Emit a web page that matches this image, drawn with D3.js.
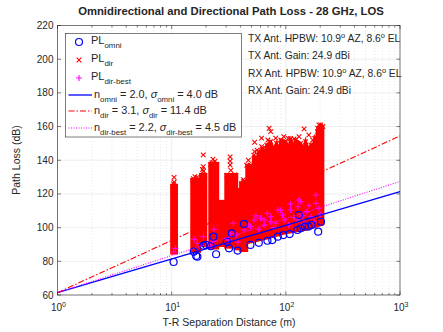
<!DOCTYPE html>
<head>
  <meta charset="utf-8">
  <title>Omnidirectional and Directional Path Loss</title>
  <script src="https://cdn.jsdelivr.net/npm/d3@7"></script>
  <style>
  body { margin: 0; background: #fff; }
  text { font-family: "Liberation Sans", Arial, sans-serif; fill: #262626; }
  </style>
</head>
<body>
<script type="text/javascript">
var WIDTH = 443, HEIGHT = 332;

// omni PL (blue circles): [distance m, PL dB]
var omniPts = [[10.4,79.6],[15.6,85.7],[16.4,83.2],[16.8,82.7],[19,89.3],[22,89],[23.2,94.6],[24.5,84.2],
  [30.4,91.7],[31.8,87.7],[33.6,96.6],[37.8,86.4],[43,102.2],[49,89.7],[58,91],[69,92.2],[76,92.6],
  [85,94.6],[95,95.6],[108,96.2],[126,98.6],[130,107.5],[135,99.6],[147,100.6],[158,100.6],[168,101.6],
  [192,97.6],[203,103.5],[20,89.7]];

// dir PL dense strips: [d from, d to, PL low, PL high]
var dirStrips = [[10.2,10.8,85.5,124.5],[15.3,17.2,86.5,128],[18.3,19.5,90,131],[22,24.8,88.5,137.5],
  [26.3,29.2,90,115],[30.4,36.4,89,131],[37.2,40.2,88,122],[41,44.5,87,126]];
// dir PL dense mass beyond ~45 m: upper and lower envelopes
var massTop = [[45.5,137],[49.3,137],[50.5,131],[52.5,143],[55,139],[58,145],[63,147],[65.5,141],[68,149],
  [73.7,151],[78,146],[83,150],[88,144],[90.4,152],[100,151],[106,146],[110,153],[116,147],[122,152],
  [135,150],[141,145],[149,151],[158,146],[166,149],[172,147],[179,153],[185,151],[190,159],[202,161],[211,160]];
var massBottom = [[45.5,91],[70,94],[100,97],[150,99],[211,102]];
// dir PL scattered points
var dirPts = [[10.5,129.8],[10.5,127],[10.4,126],[16,130.3],[16.8,130],[15.5,129],[18.9,143.2],[18.9,136.2],
  [19,133.5],[18.6,134.5],[23,140.6],[24,139.5],[22.5,138.5],[32.5,142],[32.5,139.5],[32.5,137.2],[33,134],
  [35.5,131.3],[42.5,128.5],[43.5,127.5],[42.5,127.3],[53.3,150.7],[53.3,145.1],[61.3,153.1],[61.3,148.1],
  [71.4,159],[73.7,157],[69.6,152],[81.5,153.1],[118,152.6],[144.6,158.6],[130.5,154],[159,155],[195,161],
  [202,159.8],[190,157],[47,140],[56,146],[96,154],[105,153],[172,152]];

// dir-best PL (magenta plus)
var bestPts = [[15.7,93.1],[16.8,90.7],[19,94.6],[10.8,87.7],[10.4,85.5],[23.4,99],[23.3,92],[34.7,102.6],
  [33,96.6],[38,91.5],[22,89],[31.5,92.7],[84.8,110.5],[93.6,107.5],[110,110.5],[127,112.4],[135,115.4],
  [153,109.5],[183,119.4],[183,114.5],[195,111.5],[69,108.5],[73.7,103.5],[60,105.5],[49,100.6],[43,98.6],
  [36.6,95.6],[52.6,104.5],[96.5,104.5],[166,106.5],[177,103.5],[127,104.5],[81.5,102.6],[64.5,101.6],
  [144,102.6],[106,101.6],[130,116.4],[110,114],[90,110.5],[73.7,106.5],[54.6,107],[64.5,104.5],[47.4,101.6],
  [58,99],[78,100],[118,106],[160,113],[200,108],[140,107]];

// fitted models: PL = fspl + 10 n log10(d)
var fspl = 61.4;
var nOmni = 2.0, nDir = 3.1, nBest = 2.2;

var xTicks = [1, 10, 100, 1000];
var yTicks = [60, 80, 100, 120, 140, 160, 180, 200, 220];

var svg = d3.select("body").append("svg")
  .attr("width", WIDTH).attr("height", HEIGHT);

var x = d3.scaleLog().domain([1, 1000]).range([57.5, 400]);
var y = d3.scaleLinear().domain([60, 220]).range([295, 25.5]);

var minor = [];
[1, 10, 100].forEach(function(b){ for (var k = 2; k < 10; k++) minor.push(b * k); });

// grid
var grid = svg.append("g");
grid.selectAll(".mg").data(minor).enter().append("line")
  .attr("x1", function(d){ return x(d); }).attr("x2", function(d){ return x(d); })
  .attr("y1", y(60)).attr("y2", y(220))
  .attr("stroke", "#d0d0d0").attr("stroke-width", 0.5).attr("stroke-dasharray", "1,2");
grid.selectAll(".gx").data(xTicks).enter().append("line")
  .attr("x1", function(d){ return x(d); }).attr("x2", function(d){ return x(d); })
  .attr("y1", y(60)).attr("y2", y(220))
  .attr("stroke", "#dedede").attr("stroke-width", 0.5);
grid.selectAll(".gy").data(yTicks).enter().append("line")
  .attr("x1", x(1)).attr("x2", x(1000))
  .attr("y1", function(d){ return y(d); }).attr("y2", function(d){ return y(d); })
  .attr("stroke", "#dedede").attr("stroke-width", 0.5);

// dir PL dense regions
var red = "#ff0000";
svg.append("g").selectAll("rect").data(dirStrips).enter().append("rect")
  .attr("x", function(d){ return x(d[0]) - 2.5; })
  .attr("width", function(d){ return x(d[1]) - x(d[0]) + 5; })
  .attr("y", function(d){ return y(d[3]) - 2.5; })
  .attr("height", function(d){ return y(d[2]) - y(d[3]) + 5; })
  .attr("fill", red);

var massPoly = massTop.concat(massBottom.slice().reverse());
svg.append("path")
  .attr("d", d3.line().x(function(d){ return x(d[0]); }).y(function(d){ return y(d[1]); })(massPoly) + "Z")
  .attr("fill", red).attr("stroke", red).attr("stroke-width", 3).attr("stroke-linejoin", "miter");

function cross(sel, s){
  sel.append("path").attr("d", "M" + (-s) + "," + (-s) + "L" + s + "," + s + "M" + (-s) + "," + s + "L" + s + "," + (-s));
}
var dg = svg.append("g").attr("stroke", red).attr("stroke-width", 1.1).attr("fill", "none");
dirPts.forEach(function(p){
  var g = dg.append("g").attr("transform", "translate(" + x(p[0]) + "," + y(p[1]) + ")");
  cross(g, 2.3);
});
// x markers along the upper edge of strips / mass
dirStrips.forEach(function(s){
  [s[0], s[1]].forEach(function(d){
    var g = dg.append("g").attr("transform", "translate(" + x(d) + "," + y(s[3]) + ")");
    cross(g, 2.3);
  });
});
massTop.forEach(function(p){
  var g = dg.append("g").attr("transform", "translate(" + x(p[0]) + "," + y(p[1]) + ")");
  cross(g, 2.3);
});

// dir-best markers
var mag = "#ff00ff";
var bg = svg.append("g").attr("stroke", mag).attr("stroke-width", 1.1);
bestPts.forEach(function(p){
  bg.append("path").attr("transform", "translate(" + x(p[0]) + "," + y(p[1]) + ")")
    .attr("d", "M-3,0L3,0M0,-3L0,3");
});

// omni circles
svg.append("g").selectAll("circle").data(omniPts).enter().append("circle")
  .attr("cx", function(d){ return x(d[0]); }).attr("cy", function(d){ return y(d[1]); })
  .attr("r", 3.5).attr("fill", "none").attr("stroke", "#0000ff").attr("stroke-width", 1.2);

// fit lines
var dd = [1, 1000];
function fitLine(n, color, dash, w){
  svg.append("path")
    .attr("d", d3.line().x(function(d){ return x(d); }).y(function(d){ return y(fspl + 10 * n * Math.log10(d)); })(dd))
    .attr("stroke", color).attr("stroke-width", w).attr("fill", "none")
    .attr("stroke-dasharray", dash);
}
fitLine(nOmni, "#0000ff", null, 1.3);
fitLine(nDir, "#ff0000", "6,2,1.5,2", 1.1);
fitLine(nBest, "#ff00ff", "1,1.5", 1.1);

// axes box and ticks
var ax = svg.append("g").attr("stroke", "#262626").attr("stroke-width", 0.6);
ax.append("rect").attr("x", x(1)).attr("y", y(220)).attr("width", x(1000) - x(1)).attr("height", y(60) - y(220))
  .attr("fill", "none");
xTicks.forEach(function(d){
  ax.append("line").attr("x1", x(d)).attr("x2", x(d)).attr("y1", y(60)).attr("y2", y(60) - 3.5);
  ax.append("line").attr("x1", x(d)).attr("x2", x(d)).attr("y1", y(220)).attr("y2", y(220) + 3.5);
});
minor.forEach(function(d){
  ax.append("line").attr("x1", x(d)).attr("x2", x(d)).attr("y1", y(60)).attr("y2", y(60) - 2);
  ax.append("line").attr("x1", x(d)).attr("x2", x(d)).attr("y1", y(220)).attr("y2", y(220) + 2);
});
yTicks.forEach(function(d){
  ax.append("line").attr("x1", x(1)).attr("x2", x(1) + 3.5).attr("y1", y(d)).attr("y2", y(d));
  ax.append("line").attr("x1", x(1000)).attr("x2", x(1000) - 3.5).attr("y1", y(d)).attr("y2", y(d));
});

// tick labels
svg.append("g").selectAll("text").data(yTicks).enter().append("text")
  .attr("x", x(1) - 4).attr("y", function(d){ return y(d) + 3.5; })
  .attr("text-anchor", "end").attr("font-size", 10).text(function(d){ return d; });
xTicks.forEach(function(d, i){
  var t = svg.append("text").attr("x", x(d) + 1).attr("y", 311).attr("text-anchor", "middle").attr("font-size", 10);
  t.append("tspan").text("10");
  t.append("tspan").attr("font-size", 7).attr("dy", -4).text(i);
});

// labels
svg.append("text").attr("x", 231).attr("y", 15).attr("text-anchor", "middle")
  .attr("font-size", 11.3).attr("font-weight", "bold").attr("fill", "#000")
  .text("Omnidirectional and Directional Path Loss - 28 GHz, LOS");
svg.append("text").attr("x", 229).attr("y", 326).attr("text-anchor", "middle")
  .attr("font-size", 10.5).text("T-R Separation Distance (m)");
svg.append("text").attr("transform", "translate(20,160) rotate(-90)").attr("text-anchor", "middle")
  .attr("font-size", 10.5).text("Path Loss (dB)");

// rich text helper: parts of [text, kind] kind 0 normal, 1 subscript, 2 superscript, 3 italic
function rich(px, py, parts, size){
  var t = svg.append("text").attr("x", px).attr("y", py).attr("font-size", size);
  var shift = 0;
  parts.forEach(function(p){
    var s = t.append("tspan").text(p[0]);
    var want = p[1] === 1 ? 3.5 : p[1] === 2 ? -4 : 0;
    s.attr("dy", want - shift);
    shift = want;
    if (p[1] === 1 || p[1] === 2) s.attr("font-size", size * 0.72);
    if (p[1] === 3) s.attr("font-style", "italic");
  });
  return t;
}

// legend
svg.append("rect").attr("x", 65.5).attr("y", 33.5).attr("width", 176).attr("height", 103.5)
  .attr("fill", "#fff").attr("stroke", "#262626").attr("stroke-width", 0.6);
var rows = [42, 60, 78, 95, 111, 128];
svg.append("circle").attr("cx", 79).attr("cy", rows[0]).attr("r", 3.5)
  .attr("fill", "none").attr("stroke", "#0000ff").attr("stroke-width", 1.2);
var lc = svg.append("g").attr("transform", "translate(79," + rows[1] + ")").attr("stroke", red).attr("stroke-width", 1.1);
cross(lc, 2.3);
svg.append("path").attr("transform", "translate(79," + rows[2] + ")").attr("d", "M-3,0L3,0M0,-3L0,3")
  .attr("stroke", mag).attr("stroke-width", 1.1);
[["#0000ff", null, 1.3], ["#ff0000", "6,2,1.5,2", 1.1], ["#ff00ff", "1,1.5", 1.1]].forEach(function(s, i){
  svg.append("line").attr("x1", 68.5).attr("x2", 92).attr("y1", rows[3 + i]).attr("y2", rows[3 + i])
    .attr("stroke", s[0]).attr("stroke-width", s[2]).attr("stroke-dasharray", s[1]);
});
rich(91, rows[0] + 2, [["PL",0],["omni",1]], 11);
rich(91, rows[1] + 2, [["PL",0],["dir",1]], 11);
rich(91, rows[2] + 2, [["PL",0],["dir-best",1]], 11);
rich(94, rows[3] + 3, [["n",0],["omni",1],[" = 2.0, ",0],["σ",3],["omni",1],[" = 4.0 dB",0]], 10.9);
rich(94, rows[4] + 3, [["n",0],["dir",1],[" = 3.1, ",0],["σ",3],["dir",1],[" = 11.4 dB",0]], 10.9);
rich(94, rows[5] + 3, [["n",0],["dir-best",1],[" = 2.2, ",0],["σ",3],["dir-best",1],[" = 4.5 dB",0]], 10.9);

// antenna annotations
rich(248, 42, [["TX Ant. HPBW: 10.9",0],["o",2],[" AZ, 8.6",0],["o",2],[" EL",0]], 10.3);
rich(248, 59, [["TX Ant. Gain: 24.9 dBi",0]], 10.3);
rich(248, 77, [["RX Ant. HPBW: 10.9",0],["o",2],[" AZ, 8.6",0],["o",2],[" EL",0]], 10.3);
rich(248, 94, [["RX Ant. Gain: 24.9 dBi",0]], 10.3);
</script>
</body>
